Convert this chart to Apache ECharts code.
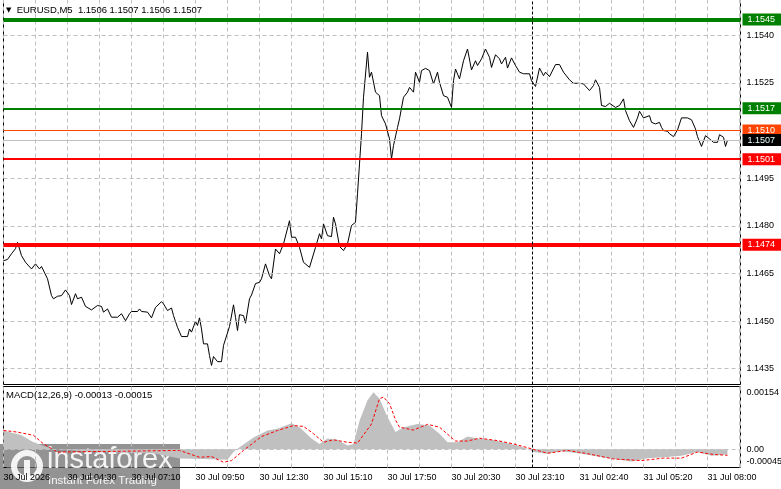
<!DOCTYPE html>
<html>
<head>
<meta charset="utf-8">
<script src="https://cdn.jsdelivr.net/npm/echarts@6/dist/echarts.min.js"></script>
<style>
html, body { margin: 0; padding: 0; background: #fff; }
#chart { width: 781px; height: 489px; }
</style>
</head>
<body>
<div id="chart"></div>
<script>
// M5 bar number -> close
const priceBar = [0,2,4,6,7,9,11,14,16,17,18,19,20,22,24,25,27,29,31,32,33,34,36,37,39,41,42,44,45,47,49,50,52,54,57,59,61,63,64,67,68,69,72,74,76,79,80,82,84,85,87,89,90,92,93,94,96,97,98,99,100,102,103,104,105,107,109,110,113,115,116,117,118,120,121,123,124,126,128,129,131,133,134,136,137,138,140,141,143,144,146,148,150,153,154,156,158,159,160,162,164,165,166,168,170,172,174,176,177,178,179,180,182,183,184,185,186,188,189,191,193,194,195,197,198,200,202,203,205,206,208,209,211,213,215,217,218,220,222,224,225,226,228,230,232,234,236,237,239,241,243,244,246,248,249,251,252,254,256,258,259,260,263,264,266,268,270,271,273,274,276,278,280,283,284,285,288,290,291,293,295,296,298,299,301,303,304,306,308,310,311,313,315,317,318,320,323,324,326,328,329,330,332,333,335,337,339,342,344,346,347,349,351,353,355,357,358,360,361,362]
const priceClose = [1.14690,1.14694,1.14712,1.14728,1.14748,1.14706,1.14685,1.14664,1.14680,1.14678,1.14664,1.14672,1.14666,1.14633,1.14580,1.14570,1.14578,1.14580,1.14598,1.14596,1.14580,1.14552,1.14586,1.14570,1.14575,1.14546,1.14541,1.14535,1.14531,1.14549,1.14546,1.14528,1.14538,1.14512,1.14512,1.14523,1.14501,1.14523,1.14530,1.14530,1.14538,1.14530,1.14528,1.14510,1.14543,1.14561,1.14554,1.14533,1.14541,1.14517,1.14480,1.14451,1.14457,1.14451,1.14475,1.14465,1.14499,1.14486,1.14510,1.14475,1.14428,1.14428,1.14391,1.14360,1.14388,1.14372,1.14372,1.14423,1.14483,1.14551,1.14512,1.14470,1.14520,1.14517,1.14493,1.14570,1.14582,1.14618,1.14622,1.14633,1.14680,1.14643,1.14633,1.14727,1.14732,1.14712,1.14743,1.14748,1.14816,1.14764,1.14764,1.14732,1.14685,1.14669,1.14664,1.14732,1.14775,1.14759,1.14806,1.14769,1.14766,1.14827,1.14806,1.14735,1.14722,1.14743,1.14801,1.14811,1.14901,1.14995,1.15090,1.15205,1.15347,1.15268,1.15284,1.15289,1.15221,1.15210,1.15147,1.15121,1.15074,1.15011,1.15053,1.15110,1.15137,1.15205,1.15221,1.15236,1.15221,1.15284,1.15252,1.15289,1.15296,1.15289,1.15247,1.15284,1.15252,1.15210,1.15205,1.15173,1.15257,1.15294,1.15263,1.15320,1.15357,1.15291,1.15320,1.15305,1.15326,1.15357,1.15331,1.15299,1.15339,1.15326,1.15310,1.15331,1.15297,1.15329,1.15305,1.15284,1.15289,1.15279,1.15279,1.15257,1.15239,1.15297,1.15273,1.15284,1.15270,1.15273,1.15308,1.15308,1.15284,1.15260,1.15266,1.15249,1.15249,1.15247,1.15252,1.15226,1.15242,1.15260,1.15236,1.15179,1.15176,1.15186,1.15186,1.15173,1.15179,1.15200,1.15163,1.15131,1.15110,1.15140,1.15161,1.15140,1.15147,1.15126,1.15121,1.15126,1.15110,1.15100,1.15098,1.15090,1.15081,1.15102,1.15140,1.15140,1.15134,1.15105,1.15081,1.15050,1.15084,1.15074,1.15063,1.15063,1.15087,1.15079,1.15050,1.15070]

const histBar = [0,9,15,24,40,60,75,88,100,112,115,118,125,132,137,144,148,154,158,162,167,172,175,178,182,185,188,192,196,200,207,213,218,222,227,232,237,244,250,257,262,265,272,279,289,297,305,314,322,330,339,347,354,362]
const histValue = [0.00046,0.00034,0.00017,0.00001,-0.00005,-0.00008,-0.00010,-0.00023,-0.00024,-0.00026,-0.00007,0.00005,0.00029,0.00046,0.00050,0.00064,0.00054,0.00026,0.00013,0.00026,0.00023,0.00009,0.00013,0.00070,0.00120,0.00140,0.00124,0.00079,0.00042,0.00054,0.00062,0.00058,0.00038,0.00017,0.00017,0.00031,0.00026,0.00023,0.00017,0.00009,0.00001,-0.00007,-0.00011,-0.00005,-0.00011,-0.00018,-0.00024,-0.00030,-0.00022,-0.00020,-0.00016,-0.00007,-0.00016,-0.00013]

const signalBar = [0,7,15,20,27,60,88,98,104,110,114,120,129,137,145,150,155,160,165,172,177,184,188,190,193,196,198,205,212,218,226,232,238,247,255,264,272,282,292,305,319,330,339,347,355,362]
const signalValue = [0.00046,0.00042,0.00034,0.00013,-0.00007,-0.00005,-0.00003,-0.00020,-0.00018,-0.00032,-0.00028,-0.00003,0.00031,0.00046,0.00058,0.00056,0.00038,0.00017,0.00023,0.00017,0.00015,0.00062,0.00124,0.00128,0.00112,0.00072,0.00054,0.00047,0.00061,0.00054,0.00020,0.00020,0.00027,0.00021,0.00013,0.00001,-0.00010,-0.00003,-0.00011,-0.00024,-0.00028,-0.00022,-0.00022,-0.00007,-0.00013,-0.00015]

const timeLabels = ['30 Jul 2026', '30 Jul 04:30', '30 Jul 07:10', '30 Jul 09:50', '30 Jul 12:30', '30 Jul 15:10', '30 Jul 17:50', '30 Jul 20:30', '30 Jul 23:10', '31 Jul 02:40', '31 Jul 05:20', '31 Jul 08:00']
const priceTicks = [1.1435, 1.1450, 1.1465, 1.1480, 1.1495, 1.1510, 1.1525, 1.1540]
const macdTicks = [-0.00045, 0, 0.00154]
const levels = [1.1545, 1.1517, 1.1510, 1.1507, 1.1501, 1.1474]
const separatorBar = 264.25

const font = 'Liberation Sans'
const gridDash = { color: '#c0c0c0', type: [4, 3], width: 1 }

// line colour, width, label background, label text
function levelLook(v) {
    if (v === 1.1545) return ['#008000', 4, '#008000', '#fff']
    if (v === 1.1517) return ['#008000', 2, '#008000', '#fff']
    if (v === 1.1510) return ['#ff4500', 1, '#ff4500', '#fff']
    if (v === 1.1507) return ['#c0c0c0', 1, '#000', '#e8ffff']
    if (v === 1.1501) return ['#ff0000', 2, '#ff0000', '#fff']
    return ['#ff0000', 4, '#ff0000', '#fff']
}

const priceData = priceBar.map((b, i) => [b, priceClose[i]])

const chart = echarts.init(document.getElementById('chart'))

const option = {
    animation: false,
    backgroundColor: '#fff',
    textStyle: { fontFamily: font },
    title: [
        {
            text: '{a|▼}  EURUSD,M5  1.1506 1.1507 1.1506 1.1507',
            left: 6,
            top: 5,
            padding: 0,
            textStyle: {
                fontFamily: font, fontSize: 9.5, fontWeight: 'normal', color: '#000',
                rich: { a: { fontSize: 7, color: '#000', fontFamily: 'DejaVu Sans' } },
            },
        },
        {
            text: 'MACD(12,26,9) -0.00013 -0.00015',
            left: 6,
            top: 390,
            padding: 0,
            textStyle: { fontFamily: font, fontSize: 9.5, fontWeight: 'normal', color: '#000' },
        },
    ],
    grid: [
        { left: 3.5, top: -0.5, width: 737, height: 385, show: true, borderColor: '#000', borderWidth: 1, containLabel: false, outerBoundsMode: 'none' },
        { left: 3.5, top: 386.5, width: 737, height: 81, show: true, borderColor: '#000', borderWidth: 1, containLabel: false, outerBoundsMode: 'none' },
    ],
    xAxis: [
        {
            gridIndex: 0, type: 'value', min: 0, max: 368.5, interval: 16,
            axisLine: { show: false }, axisTick: { show: false }, axisLabel: { show: false },
            splitLine: { show: true, lineStyle: gridDash },
        },
        {
            gridIndex: 1, type: 'value', min: 0, max: 368.5, interval: 16,
            axisLine: { show: false }, axisTick: { show: false },
            axisLabel: {
                show: true, align: 'left', margin: 6, fontSize: 9, color: '#000', fontFamily: font,
                showMaxLabel: false, showMinLabel: true,
                formatter: (v) => (v % 32 === 0 ? timeLabels[v / 32] || '' : ''),
            },
            splitLine: { show: true, lineStyle: gridDash },
        },
    ],
    yAxis: [
        {
            gridIndex: 0, type: 'value', position: 'right', min: 1.1430, max: 1.15513,
            axisLine: { show: false },
            axisTick: { show: true, length: 3, customValues: priceTicks, lineStyle: { color: '#000' } },
            axisLabel: { customValues: priceTicks, formatter: (v) => v.toFixed(4), fontSize: 9, color: '#000', margin: 6, fontFamily: font },
            splitLine: { show: false },
        },
        {
            gridIndex: 1, type: 'value', position: 'right', min: -0.00045, max: 0.00154,
            axisLine: { show: false },
            axisTick: { show: true, length: 3, customValues: macdTicks, lineStyle: { color: '#000' } },
            axisLabel: {
                customValues: macdTicks, fontSize: 9, color: '#000', margin: 6, fontFamily: font,
                formatter: (v) => {
                    if (v > 0) return '{t|' + v.toFixed(5) + '}'
                    if (v < 0) return '{b|' + v.toFixed(5) + '}'
                    return '0.00'
                },
                rich: {
                    t: { fontSize: 9, color: '#000', padding: [13, 0, 0, 0], fontFamily: font },
                    b: { fontSize: 9, color: '#000', padding: [0, 0, 12, 0], fontFamily: font },
                },
            },
            splitLine: { show: false },
        },
    ],
    series: [
        {
            // carries the horizontal price grid behind the line
            name: 'grid',
            type: 'line',
            xAxisIndex: 0, yAxisIndex: 0,
            data: priceData,
            symbol: 'none',
            lineStyle: { opacity: 0 },
            silent: true,
            z: 1,
            markLine: {
                silent: true, symbol: 'none', precision: 6, label: { show: false },
                lineStyle: gridDash,
                data: priceTicks.map((v) => ({ yAxis: v })),
            },
        },
        {
            name: 'levels',
            type: 'line',
            xAxisIndex: 0, yAxisIndex: 0,
            data: priceData,
            symbol: 'none',
            lineStyle: { opacity: 0 },
            silent: true,
            z: 2,
            markLine: {
                silent: true, symbol: 'none', precision: 6,
                data: levels.map((v) => {
                    const look = levelLook(v)
                    return {
                        yAxis: v,
                        lineStyle: { color: look[0], width: look[1], type: 'solid' },
                        label: {
                            show: true, position: 'end', distance: 2,
                            formatter: () => v.toFixed(4),
                            backgroundColor: look[2], color: look[3],
                            fontSize: 9, fontFamily: font, padding: [2, 7, 1, 5],
                        },
                    }
                }),
            },
        },
        {
            name: 'EURUSD',
            type: 'line',
            xAxisIndex: 0, yAxisIndex: 0,
            data: priceData,
            showSymbol: false,
            symbol: 'none',
            lineStyle: { color: '#000', width: 1 },
            z: 3,
            markLine: {
                silent: true, symbol: 'none', precision: 6, label: { show: false },
                lineStyle: { color: '#000', type: [3, 2], width: 1 },
                data: [{ xAxis: separatorBar }],
            },
        },
        {
            name: 'MACD',
            type: 'line',
            xAxisIndex: 1, yAxisIndex: 1,
            data: histBar.map((b, i) => [b, histValue[i]]),
            showSymbol: false,
            symbol: 'none',
            lineStyle: { width: 0, color: '#c0c0c0' },
            areaStyle: { color: '#c0c0c0', opacity: 1 },
            z: 2,
            markLine: {
                silent: true, symbol: 'none', precision: 6, label: { show: false },
                data: [
                    { yAxis: 0, lineStyle: gridDash },
                    { xAxis: separatorBar, lineStyle: { color: '#000', type: [3, 2], width: 1 } },
                ],
            },
        },
        {
            name: 'Signal',
            type: 'line',
            xAxisIndex: 1, yAxisIndex: 1,
            data: signalBar.map((b, i) => [b, signalValue[i]]),
            showSymbol: false,
            symbol: 'none',
            lineStyle: { color: '#ff0000', width: 1, type: [3, 2] },
            z: 3,
        },
    ],
    graphic: [
        {
            type: 'group',
            left: 0,
            top: 444,
            z: 100,
            children: [
                { type: 'rect', shape: { x: 0, y: 0, width: 180, height: 45 }, style: { fill: 'rgba(105,105,105,0.72)' } },
                { type: 'circle', shape: { cx: 27, cy: 22, r: 13 }, style: { fill: 'none', stroke: 'rgba(255,255,255,0.9)', lineWidth: 6 } },
                { type: 'rect', shape: { x: 24, y: 16, width: 6, height: 20 }, style: { fill: 'rgba(255,255,255,0.9)' } },
                { type: 'text', style: { x: 47, y: 1, text: 'instaforex', fontSize: 29, fontFamily: font, fill: 'rgba(255,255,255,0.9)' } },
                { type: 'text', style: { x: 48, y: 31, text: 'Instant Forex Trading', fontSize: 11.5, fontFamily: font, fill: 'rgba(255,255,255,0.9)' } },
            ],
        },
    ],
}

chart.setOption(option)
</script>
</body>
</html>
